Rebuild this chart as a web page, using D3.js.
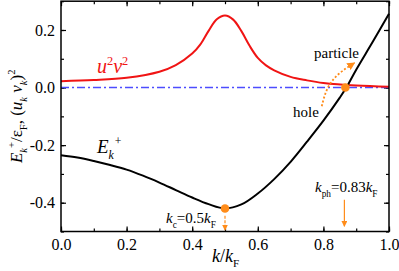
<!DOCTYPE html>
<html>
<head>
<meta charset="utf-8">
<script src="https://cdn.jsdelivr.net/npm/d3@7/dist/d3.min.js"></script>
<style>
  body { margin: 0; background: #fff; }
  svg { display: block; font-family: "Liberation Serif", "DejaVu Serif", serif; }
</style>
</head>
<body>
<div id="chart"></div>
<script>
// E_k^+ / eps_F
const eK = [0, 0.05, 0.1, 0.15, 0.2, 0.25, 0.3, 0.35, 0.4, 0.45, 0.5, 0.55, 0.6, 0.65, 0.7, 0.75, 0.8, 0.85, 0.87, 0.9, 0.95, 1.0];
const eVals = [-0.235, -0.243, -0.255, -0.269, -0.285, -0.306, -0.33, -0.356, -0.382, -0.405, -0.42, -0.406, -0.368, -0.318, -0.258, -0.188, -0.115, -0.035, 0.0, 0.062, 0.158, 0.256];

// (u_k v_k)^2
const uK = [0, 0.1, 0.2, 0.3, 0.35, 0.4, 0.425, 0.45, 0.475, 0.5, 0.525, 0.55, 0.575, 0.6, 0.625, 0.65, 0.7, 0.75, 0.8, 0.9, 1.0];
const uVals = [0.022, 0.026, 0.034, 0.055, 0.078, 0.118, 0.15, 0.197, 0.237, 0.25, 0.236, 0.196, 0.145, 0.103, 0.077, 0.06, 0.037, 0.025, 0.016, 0.007, 0.003];

// marked points: k_c (energy minimum) and k_ph (zero crossing)
const kMarks = [0.5, 0.867];
const eMarks = [-0.42, 0.0];

const xTicks = [0, 0.2, 0.4, 0.6, 0.8, 1.0];
const yTicks = [-0.4, -0.2, 0.0, 0.2];

const W = 399, H = 271;
const margin = { top: 1.2, right: 10, bottom: 39.5, left: 61 };
const orange = '#ff8c1a';

const svg = d3.select('#chart').append('svg')
    .attr('width', W)
    .attr('height', H);

const x = d3.scaleLinear().domain([0, 1]).range([margin.left, W - margin.right]);
const y = d3.scaleLinear().domain([-0.5, 0.3]).range([H - margin.bottom, margin.top]);

const defs = svg.append('defs');
function addHead(id, w, h) {
    defs.append('marker')
        .attr('id', id)
        .attr('viewBox', '0 0 10 10')
        .attr('refX', 9).attr('refY', 5)
        .attr('markerWidth', w).attr('markerHeight', h)
        .attr('markerUnits', 'userSpaceOnUse')
        .attr('orient', 'auto')
        .append('path')
        .attr('d', 'M0,0 L10,5 L0,10 Z')
        .attr('fill', orange);
}
addHead('head', 6, 6);
addHead('head2', 8, 8);

// axes: ticks point inward on all four sides
const minorX = d3.range(0, 1.0001, 0.1);
const minorY = d3.range(-0.5, 0.3001, 0.1);
function tickFmt(d) { return d3.format('.1f')(d).replace('−', '-'); }

function drawAxis(axis, tr) {
    const g = svg.append('g').attr('transform', tr).call(axis);
    g.select('.domain').remove();
    g.selectAll('text')
        .attr('font-size', 16)
        .attr('font-family', '"Liberation Serif", serif')
        .attr('fill', '#000');
    g.selectAll('line').attr('stroke', '#000').attr('stroke-width', 1.2);
    return g;
}
const bottomY = `translate(0,${H - margin.bottom})`;
const topY = `translate(0,${margin.top})`;
const leftX = `translate(${margin.left},0)`;
const rightX = `translate(${W - margin.right},0)`;

drawAxis(d3.axisBottom(x).tickValues(minorX).tickSize(-3).tickFormat(''), bottomY);
drawAxis(d3.axisTop(x).tickValues(minorX).tickSize(-3).tickFormat(''), topY);
drawAxis(d3.axisLeft(y).tickValues(minorY).tickSize(-3).tickFormat(''), leftX);
drawAxis(d3.axisRight(y).tickValues(minorY).tickSize(-3).tickFormat(''), rightX);

drawAxis(d3.axisBottom(x).tickValues(xTicks).tickSize(-5).tickPadding(7).tickFormat(tickFmt), bottomY);
drawAxis(d3.axisTop(x).tickValues(xTicks).tickSize(-5).tickFormat(''), topY);
drawAxis(d3.axisLeft(y).tickValues(yTicks).tickSize(-5).tickPadding(6).tickFormat(tickFmt), leftX);
drawAxis(d3.axisRight(y).tickValues(yTicks).tickSize(-5).tickFormat(''), rightX);

// zero line
svg.append('line')
    .attr('x1', x(0)).attr('x2', x(1))
    .attr('y1', y(0)).attr('y2', y(0))
    .attr('stroke', '#4d4dff')
    .attr('stroke-width', 1.5)
    .attr('stroke-dasharray', '8,3,2,3');

const line = d3.line().curve(d3.curveCatmullRom.alpha(0.5));

svg.append('path')
    .attr('d', line(uK.map((k, i) => [x(k), y(uVals[i])])))
    .attr('fill', 'none')
    .attr('stroke', '#f01414')
    .attr('stroke-width', 2);

svg.append('path')
    .attr('d', line(eK.map((k, i) => [x(k), y(eVals[i])])))
    .attr('fill', 'none')
    .attr('stroke', '#000')
    .attr('stroke-width', 2);

// frame
svg.append('rect')
    .attr('x', x(0)).attr('y', y(0.3))
    .attr('width', x(1) - x(0)).attr('height', y(-0.5) - y(0.3))
    .attr('fill', 'none')
    .attr('stroke', '#000')
    .attr('stroke-width', 1.5);

// orange arrows
svg.append('line')
    .attr('x1', x(kMarks[0])).attr('x2', x(kMarks[0]))
    .attr('y1', y(-0.445)).attr('y2', y(-0.495))
    .attr('stroke', orange).attr('stroke-width', 1.2)
    .attr('stroke-dasharray', '3,1.5')
    .attr('marker-end', 'url(#head)');
svg.append('line')
    .attr('x1', x(0.864)).attr('x2', x(0.864))
    .attr('y1', y(-0.39)).attr('y2', y(-0.482))
    .attr('stroke', orange).attr('stroke-width', 1.2)
    .attr('marker-end', 'url(#head)');

const hp = [[0.795, -0.065], [0.81, 0.002], [0.845, 0.05], [0.895, 0.086]];
svg.append('path')
    .attr('d', d3.line().curve(d3.curveBasis)(hp.map(p => [x(p[0]), y(p[1])])))
    .attr('fill', 'none')
    .attr('stroke', orange)
    .attr('stroke-width', 1.8)
    .attr('stroke-dasharray', '2,2')
    .attr('marker-end', 'url(#head2)');

svg.selectAll('circle.mark')
    .data(kMarks)
    .join('circle')
    .attr('class', 'mark')
    .attr('cx', d => x(d))
    .attr('cy', (d, i) => y(eMarks[i]))
    .attr('r', 4.3)
    .attr('fill', orange);

// rich text helper: segments {t, i (italic), s ('sub'|'sup'), dx}
function richText(g, segs, size) {
    const t = g.append('text').attr('font-size', size);
    let cur = 0;
    segs.forEach(s => {
        const shift = s.s === 'sub' ? size * 0.3 : s.s === 'sup' ? -size * 0.42 : 0;
        const sp = t.append('tspan')
            .text(s.t)
            .attr('dy', shift - cur);
        if (s.i) sp.attr('font-style', 'italic');
        if (s.s) sp.attr('font-size', size * 0.62);
        if (s.dx) sp.attr('dx', s.dx);
        cur = shift;
    });
    return t;
}

// curve labels
richText(svg.append('g').attr('transform', 'translate(97,73)').attr('fill', '#f01414'), [
    { t: 'u', i: true }, { t: '2', s: 'sup' }, { t: 'v', i: true }, { t: '2', s: 'sup' }
], 20);

richText(svg.append('g').attr('transform', 'translate(97,153)'), [
    { t: 'E', i: true }, { t: 'k', i: true, s: 'sub' }, { t: '+', s: 'sup', dx: 1 }
], 19);

svg.append('text').attr('x', 314).attr('y', 58).attr('font-size', 15).text('particle');
svg.append('text').attr('x', 293).attr('y', 117).attr('font-size', 15).text('hole');

richText(svg.append('g').attr('transform', 'translate(166,223)'), [
    { t: 'k', i: true }, { t: 'c', s: 'sub' }, { t: '=0.5' }, { t: 'k', i: true }, { t: 'F', s: 'sub' }
], 15);
richText(svg.append('g').attr('transform', 'translate(315,192)'), [
    { t: 'k', i: true }, { t: 'ph', s: 'sub' }, { t: '=0.83' }, { t: 'k', i: true }, { t: 'F', s: 'sub' }
], 15);

// axis titles
richText(svg.append('g').attr('transform', 'translate(212,262)'), [
    { t: 'k', i: true }, { t: '/' }, { t: 'k', i: true }, { t: 'F', s: 'sub' }
], 18);

const yl = richText(svg.append('g').attr('transform', `translate(22,${(margin.top + H - margin.bottom) / 2}) rotate(-90)`), [
    { t: 'E', i: true }, { t: 'k', i: true, s: 'sub' }, { t: '+', s: 'sup' },
    { t: '/ε' }, { t: 'F', s: 'sub' }, { t: ', (' },
    { t: 'u', i: true }, { t: 'k', i: true, s: 'sub' },
    { t: ' v', i: true }, { t: 'k', i: true, s: 'sub' },
    { t: ')' }, { t: '2', s: 'sup' }
], 17);
yl.attr('text-anchor', 'middle');
</script>
</body>
</html>
